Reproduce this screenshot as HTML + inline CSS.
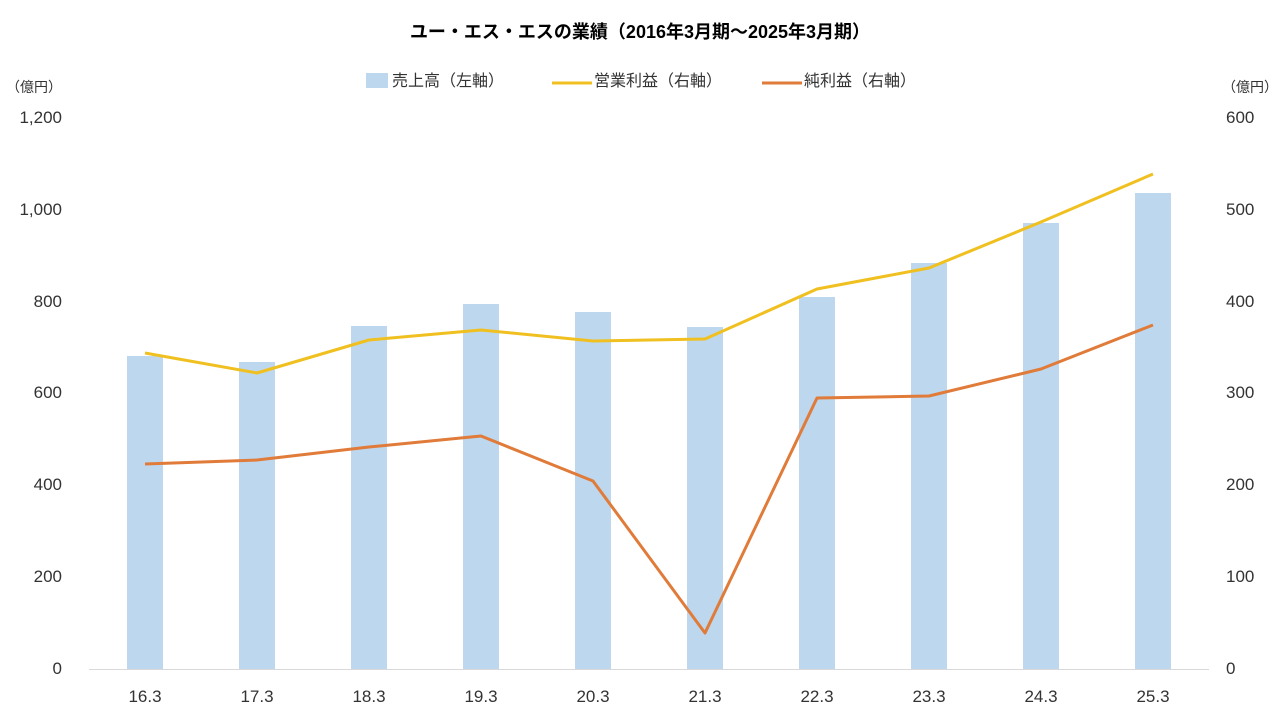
<!DOCTYPE html>
<html><head><meta charset="utf-8"><style>
body{margin:0;background:#fff;}
svg{display:block;font-family:"Liberation Sans","Noto Sans CJK JP",sans-serif;}
</style></head><body>
<svg width="1280" height="720" viewBox="0 0 1280 720">
<text x="640" y="38" text-anchor="middle" font-size="18" font-weight="bold" fill="#000">ユー・エス・エスの業績（2016年3月期～2025年3月期）</text>
<rect x="366" y="73" width="22" height="15" fill="#bdd7ee"/>
<text x="392" y="86" font-size="16" fill="#333">売上高（左軸）</text>
<line x1="552" y1="83" x2="592" y2="83" stroke="#f0c020" stroke-width="3"/>
<text x="594" y="86" font-size="16" fill="#333">営業利益（右軸）</text>
<line x1="762" y1="83" x2="802" y2="83" stroke="#e07b39" stroke-width="3"/>
<text x="804" y="86" font-size="16" fill="#333">純利益（右軸）</text>
<text x="6" y="92" font-size="14" fill="#333">（億円）</text>
<text x="1222" y="92" font-size="14" fill="#333">（億円）</text>
<g font-size="17" fill="#333" text-anchor="end">
<text x="62" y="123">1,200</text><text x="62" y="215">1,000</text><text x="62" y="307">800</text>
<text x="62" y="398">600</text><text x="62" y="490">400</text><text x="62" y="582">200</text><text x="62" y="674">0</text>
</g>
<g font-size="17" fill="#333" text-anchor="start">
<text x="1226" y="123">600</text><text x="1226" y="215">500</text><text x="1226" y="307">400</text>
<text x="1226" y="398">300</text><text x="1226" y="490">200</text><text x="1226" y="582">100</text><text x="1226" y="674">0</text>
</g>
<g fill="#bdd7ee">
<rect x="127" y="356" width="36" height="313"/>
<rect x="239" y="362" width="36" height="307"/>
<rect x="351" y="326" width="36" height="343"/>
<rect x="463" y="304" width="36" height="365"/>
<rect x="575" y="312" width="36" height="357"/>
<rect x="687" y="327" width="36" height="342"/>
<rect x="799" y="297" width="36" height="372"/>
<rect x="911" y="263" width="36" height="406"/>
<rect x="1023" y="223" width="36" height="446"/>
<rect x="1135" y="193" width="36" height="476"/>
</g>
<line x1="89" y1="669.5" x2="1209" y2="669.5" stroke="#d9d9d9" stroke-width="1"/>
<polyline fill="none" stroke="#f0c020" stroke-width="3" stroke-linejoin="round" points="145,353 257,373 369,340 481,330 593,341 705,339 817,289 929,268 1041,222 1153,174"/>
<polyline fill="none" stroke="#e07b39" stroke-width="3" stroke-linejoin="round" points="145,464 257,460 369,447 481,436 593,481 705,633 817,398 929,396 1041,369 1153,325"/>
<g font-size="17" fill="#333" text-anchor="middle">
<text x="145" y="702">16.3</text><text x="257" y="702">17.3</text><text x="369" y="702">18.3</text>
<text x="481" y="702">19.3</text><text x="593" y="702">20.3</text><text x="705" y="702">21.3</text>
<text x="817" y="702">22.3</text><text x="929" y="702">23.3</text><text x="1041" y="702">24.3</text>
<text x="1153" y="702">25.3</text>
</g>
</svg>
</body></html>
